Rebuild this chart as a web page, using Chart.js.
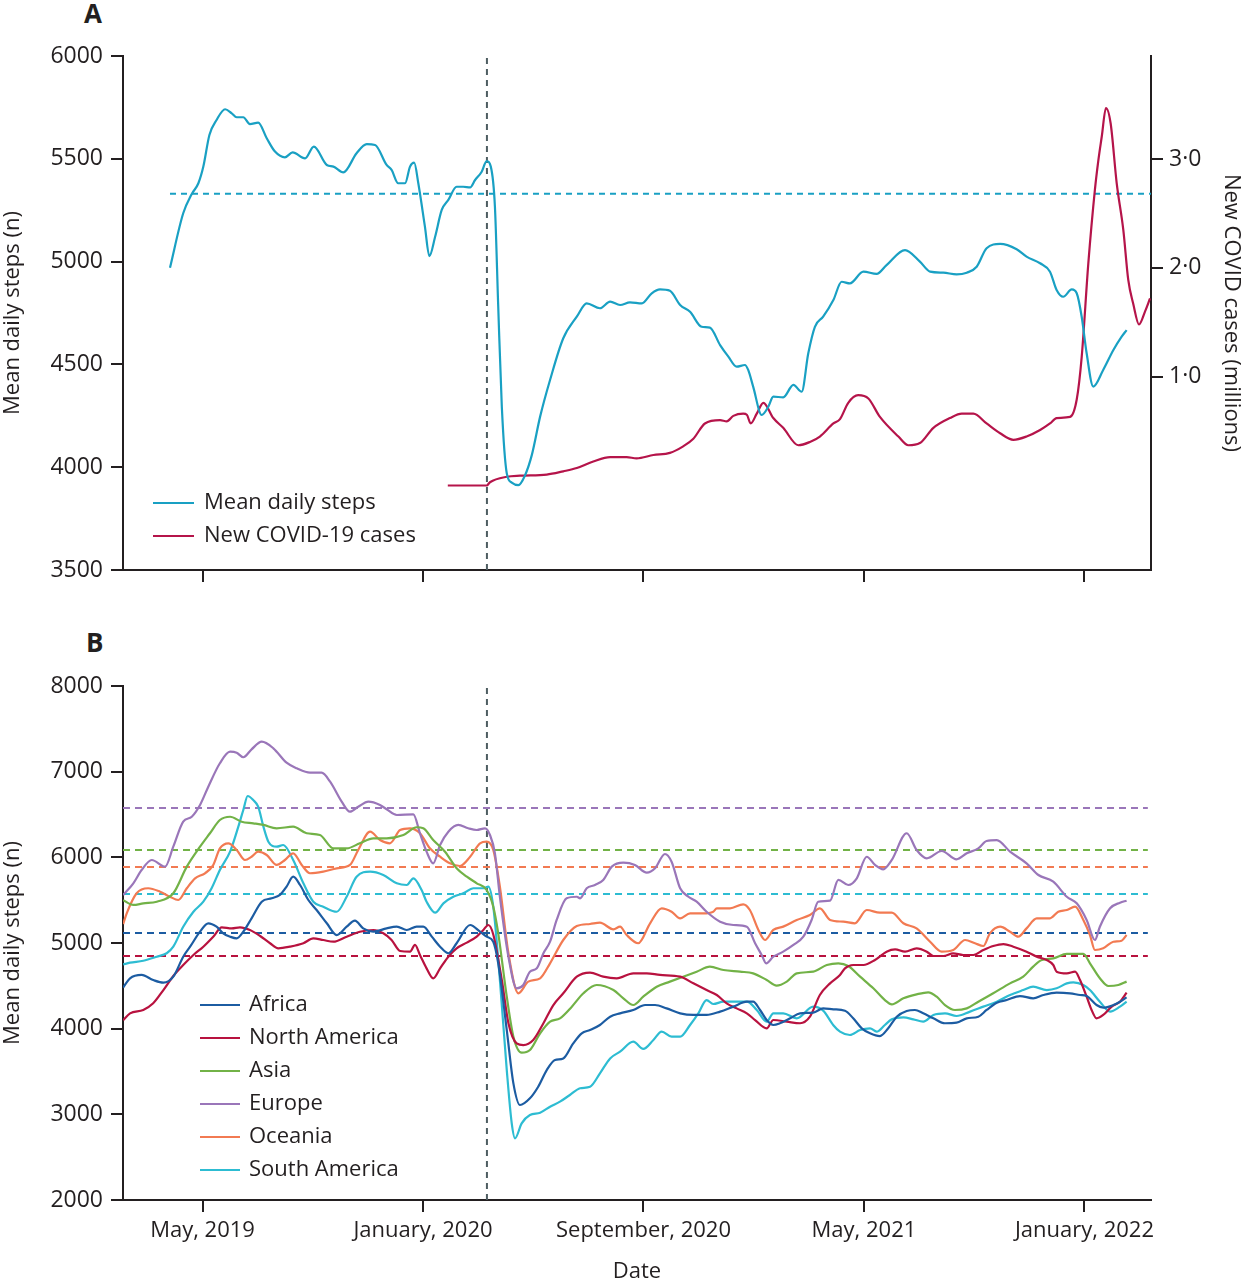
<!DOCTYPE html>
<html lang="en">
<head>
    <meta charset="UTF-8">
    <title>Mean daily steps and new COVID-19 cases</title>
    <script src="https://cdn.jsdelivr.net/npm/chart.js"></script>
    <style>
        body {
            margin: 0;
            background: #fff;
            font-family: "Open Sans", sans-serif;
        }
        #wrap {
            position: relative;
            width: 1244px;
            height: 1280px;
            overflow: hidden;
        }
        canvas {
            position: absolute;
            left: 0;
        }
        .panel {
            position: absolute;
            font-size: 26px;
            line-height: 1;
            font-weight: bold;
            color: #231f20;
        }
    </style>
</head>
<body>
<div id="wrap">
    <div class="panel" style="left:84px; top:0px;">A</div>
    <canvas id="chartA" width="1244" height="600" style="top:0px;"></canvas>
    <div class="panel" style="left:86px; top:629px;">B</div>
    <canvas id="chartB" width="1244" height="660" style="top:620px;"></canvas>
</div>

<script>
    // x values are months counted from January 2019 (0 = 1 Jan 2019)
    var xMin = 1.115;
    var xMax = 38.415;
    var tickMonths = [4, 12, 20, 28, 36];
    var tickLabels = ['May, 2019', 'January, 2020', 'September, 2020', 'May, 2021', 'January, 2022'];
    var pandemicMonth = 14.32; // WHO declaration, March 2020

    // Panel A
    var stepsAll = [[2.82,4970],[3.30,5235],[3.61,5329],[3.85,5381],[4.03,5462],[4.25,5616],[4.51,5689],[4.82,5741],[5.06,5721],[5.24,5702],[5.48,5702],[5.72,5669],[6.02,5676],[6.33,5600],[6.63,5535],[6.99,5507],[7.27,5531],[7.72,5502],[8.04,5559],[8.51,5470],[8.75,5462],[9.11,5434],[9.59,5527],[9.96,5571],[10.26,5567],[10.68,5470],[10.86,5446],[11.10,5381],[11.35,5381],[11.53,5462],[11.68,5481],[11.83,5381],[12.07,5170],[12.23,5027],[12.44,5121],[12.68,5251],[12.92,5300],[13.22,5364],[13.46,5364],[13.71,5361],[13.89,5397],[14.13,5437],[14.31,5489],[14.46,5462],[14.61,5267],[14.73,4781],[14.86,4294],[15.04,3970],[15.22,3925],[15.46,3913],[15.70,3960],[15.95,4060],[16.25,4246],[16.61,4424],[17.09,4627],[17.58,4732],[17.94,4797],[18.42,4773],[18.79,4805],[19.15,4789],[19.51,4802],[19.94,4797],[20.30,4846],[20.60,4865],[20.96,4858],[21.33,4789],[21.69,4756],[22.11,4683],[22.41,4679],[22.78,4594],[23.08,4538],[23.38,4489],[23.68,4497],[23.80,4473],[23.98,4392],[24.29,4254],[24.53,4294],[24.71,4343],[25.07,4340],[25.44,4400],[25.74,4367],[25.98,4554],[26.22,4683],[26.52,4732],[26.89,4813],[27.19,4902],[27.49,4894],[27.98,4951],[28.46,4940],[28.82,4983],[29.49,5056],[30.03,5000],[30.40,4951],[30.88,4946],[31.36,4938],[31.73,4946],[32.09,4975],[32.45,5065],[32.94,5086],[33.54,5060],[33.90,5024],[34.39,4992],[34.75,4951],[34.99,4862],[35.23,4829],[35.54,4865],[35.72,4846],[35.90,4732],[36.08,4554],[36.32,4392],[36.68,4473],[37.05,4570],[37.35,4635],[37.53,4667]];
    var stepsBaseline = 5330;

    // new COVID-19 cases, millions
    var newCases = [[12.90,0.00],[14.31,0.00],[14.43,0.03],[15.04,0.08],[15.52,0.09],[16.49,0.10],[17.09,0.13],[17.58,0.16],[18.18,0.22],[18.79,0.26],[19.39,0.26],[19.75,0.25],[20.36,0.28],[20.96,0.30],[21.44,0.36],[21.81,0.43],[22.23,0.57],[22.78,0.60],[23.02,0.59],[23.26,0.64],[23.62,0.66],[23.75,0.65],[23.89,0.57],[24.11,0.66],[24.35,0.76],[24.71,0.62],[25.07,0.53],[25.62,0.37],[26.04,0.40],[26.40,0.45],[26.89,0.57],[27.13,0.61],[27.43,0.76],[27.79,0.83],[28.16,0.80],[28.58,0.63],[29.25,0.45],[29.61,0.37],[30.03,0.39],[30.52,0.53],[31.12,0.62],[31.55,0.66],[31.97,0.66],[32.45,0.57],[32.94,0.48],[33.42,0.42],[33.90,0.45],[34.39,0.51],[34.75,0.57],[34.99,0.62],[35.48,0.63],[35.72,0.79],[35.90,1.18],[36.14,2.04],[36.38,2.72],[36.50,2.98],[36.63,3.21],[36.78,3.47],[36.95,3.33],[37.17,2.78],[37.41,2.35],[37.59,1.89],[37.77,1.67],[37.98,1.48],[38.20,1.60],[38.38,1.72]];
    var casesTicks = [1, 2, 3];

    // Panel B, by region
    var africa = [[1.12,4480],[1.37,4588],[1.79,4627],[2.21,4568],[2.58,4537],[2.94,4607],[3.30,4840],[3.55,4957],[3.91,5132],[4.21,5230],[4.51,5190],[4.75,5113],[5.00,5074],[5.24,5054],[5.48,5132],[5.78,5288],[6.15,5482],[6.51,5522],[6.81,5561],[7.05,5658],[7.29,5774],[7.54,5677],[7.84,5502],[8.14,5385],[8.51,5230],[8.87,5093],[9.23,5190],[9.53,5261],[9.83,5171],[10.20,5132],[10.68,5171],[11.05,5190],[11.41,5152],[11.77,5190],[12.01,5190],[12.32,5074],[12.62,4957],[12.92,4880],[13.22,4997],[13.71,5210],[14.07,5132],[14.31,5074],[14.55,5015],[14.73,4763],[15.04,3984],[15.28,3362],[15.52,3109],[15.88,3187],[16.18,3322],[16.49,3517],[16.79,3634],[17.09,3653],[17.45,3828],[17.76,3946],[18.06,3984],[18.42,4043],[18.79,4140],[19.15,4179],[19.63,4218],[20.06,4276],[20.42,4276],[20.84,4237],[21.33,4179],[21.81,4160],[22.29,4160],[22.78,4199],[23.26,4257],[23.75,4315],[23.98,4315],[24.23,4218],[24.47,4101],[24.71,4043],[24.95,4063],[25.32,4121],[25.68,4179],[26.16,4187],[26.52,4237],[26.89,4226],[27.31,4210],[27.61,4121],[27.92,4004],[28.22,3946],[28.58,3914],[28.88,4004],[29.19,4140],[29.55,4206],[29.85,4218],[30.15,4179],[30.52,4121],[30.94,4063],[31.36,4070],[31.73,4121],[32.15,4140],[32.45,4218],[32.82,4303],[33.18,4334],[33.66,4381],[34.14,4354],[34.51,4393],[34.99,4420],[35.48,4412],[35.84,4393],[36.08,4381],[36.44,4276],[36.68,4245],[37.05,4276],[37.29,4315],[37.53,4366]];
    var northAmerica = [[1.12,4100],[1.37,4179],[1.85,4218],[2.21,4296],[2.58,4451],[2.94,4615],[3.30,4743],[3.67,4860],[4.03,4957],[4.39,5074],[4.70,5183],[5.06,5171],[5.36,5183],[5.72,5152],[6.09,5082],[6.45,4997],[6.75,4938],[7.17,4957],[7.66,4997],[8.02,5054],[8.38,5035],[8.75,5015],[9.23,5074],[9.71,5132],[10.20,5152],[10.56,5113],[10.86,5035],[11.17,4907],[11.53,4899],[11.71,4977],[11.89,4860],[12.13,4704],[12.37,4588],[12.62,4704],[12.92,4840],[13.22,4938],[13.59,5004],[13.95,5074],[14.19,5152],[14.37,5210],[14.55,5100],[14.86,4568],[15.10,4063],[15.40,3828],[15.64,3809],[16.00,3868],[16.37,4063],[16.73,4276],[17.09,4413],[17.58,4607],[18.06,4654],[18.54,4607],[19.03,4588],[19.63,4646],[20.12,4646],[20.60,4627],[21.33,4607],[21.81,4529],[22.29,4451],[22.66,4393],[23.02,4296],[23.38,4237],[23.75,4179],[24.05,4101],[24.47,4004],[24.71,4101],[25.20,4082],[25.68,4063],[26.04,4140],[26.40,4393],[26.77,4529],[27.13,4627],[27.31,4704],[27.61,4743],[27.98,4743],[28.40,4802],[28.82,4899],[29.13,4926],[29.49,4899],[29.91,4938],[30.28,4899],[30.52,4848],[30.88,4848],[31.24,4880],[31.60,4860],[31.97,4860],[32.33,4918],[32.69,4965],[33.06,4988],[33.42,4957],[33.90,4899],[34.27,4840],[34.63,4802],[34.87,4743],[34.99,4665],[35.36,4646],[35.66,4665],[35.84,4568],[36.08,4373],[36.26,4218],[36.44,4121],[36.68,4160],[36.99,4257],[37.29,4315],[37.53,4420]];
    var asia = [[1.12,5500],[1.49,5444],[1.85,5463],[2.34,5482],[2.94,5580],[3.43,5891],[3.91,6124],[4.27,6281],[4.63,6436],[5.00,6474],[5.42,6416],[5.84,6397],[6.21,6378],[6.69,6339],[7.29,6358],[7.78,6281],[8.26,6261],[8.75,6105],[9.23,6105],[9.71,6164],[10.20,6222],[10.68,6222],[11.29,6261],[11.77,6351],[12.01,6339],[12.37,6202],[12.80,6066],[13.22,5872],[13.59,5774],[13.95,5697],[14.31,5619],[14.55,5424],[14.73,5113],[15.04,4373],[15.28,3906],[15.58,3720],[15.88,3751],[16.25,3946],[16.61,4082],[16.97,4121],[17.40,4257],[17.82,4413],[18.30,4510],[18.91,4451],[19.27,4354],[19.63,4276],[19.99,4373],[20.48,4490],[20.96,4549],[21.44,4607],[21.93,4665],[22.41,4724],[22.90,4685],[23.50,4665],[23.98,4646],[24.47,4568],[24.83,4502],[25.20,4549],[25.56,4646],[26.16,4665],[26.65,4743],[27.07,4763],[27.43,4732],[27.86,4607],[28.34,4471],[28.76,4334],[29.01,4284],[29.43,4354],[29.91,4400],[30.33,4424],[30.64,4373],[30.94,4276],[31.30,4218],[31.73,4237],[32.15,4315],[32.69,4413],[33.30,4529],[33.78,4607],[34.14,4724],[34.45,4802],[34.87,4821],[35.36,4872],[35.96,4872],[36.20,4763],[36.56,4588],[36.87,4498],[37.23,4510],[37.53,4549]];
    var europe = [[1.12,5560],[1.49,5697],[1.79,5852],[2.16,5969],[2.64,5891],[2.94,6124],[3.30,6416],[3.61,6474],[3.91,6611],[4.21,6825],[4.63,7098],[5.00,7233],[5.24,7221],[5.48,7168],[5.78,7261],[6.15,7350],[6.57,7273],[7.05,7105],[7.42,7039],[7.90,6988],[8.32,6988],[8.63,6883],[9.05,6650],[9.35,6533],[9.65,6591],[10.02,6650],[10.44,6611],[10.68,6561],[11.05,6494],[11.65,6502],[11.89,6281],[12.13,6066],[12.37,5930],[12.62,6144],[12.92,6299],[13.28,6378],[13.64,6339],[13.95,6319],[14.25,6339],[14.43,6261],[14.61,6047],[14.79,5540],[15.10,4840],[15.40,4471],[15.64,4510],[15.88,4665],[16.13,4704],[16.37,4880],[16.61,5015],[16.85,5269],[17.21,5522],[17.58,5540],[17.70,5522],[17.94,5639],[18.24,5677],[18.54,5736],[18.85,5891],[19.27,5938],[19.69,5911],[20.12,5821],[20.42,5872],[20.78,6039],[21.02,5949],[21.33,5639],[21.63,5540],[21.93,5482],[22.29,5365],[22.78,5249],[23.26,5210],[23.75,5190],[24.05,4997],[24.29,4860],[24.45,4763],[24.71,4840],[25.07,4899],[25.44,4977],[25.80,5074],[26.10,5269],[26.34,5482],[26.77,5495],[27.07,5736],[27.43,5677],[27.74,5755],[28.10,6007],[28.40,5911],[28.70,5860],[29.01,5969],[29.55,6281],[29.91,6086],[30.28,5989],[30.82,6074],[31.36,5977],[31.73,6047],[32.15,6105],[32.45,6191],[32.82,6202],[33.30,6066],[33.90,5930],[34.33,5794],[34.87,5716],[35.36,5540],[35.72,5463],[36.08,5269],[36.38,5035],[36.56,5190],[36.93,5405],[37.29,5470],[37.53,5494]];
    var oceania = [[1.12,5220],[1.25,5346],[1.61,5580],[2.03,5639],[2.46,5599],[2.82,5540],[3.12,5502],[3.43,5639],[3.73,5755],[4.09,5814],[4.39,5911],[4.63,6105],[4.94,6164],[5.24,6086],[5.54,5969],[5.78,6007],[6.02,6066],[6.33,6027],[6.69,5911],[6.99,5969],[7.29,6047],[7.60,5911],[7.90,5814],[8.38,5833],[8.87,5872],[9.35,5911],[9.65,6086],[10.08,6299],[10.44,6202],[10.80,6164],[11.17,6319],[11.53,6339],[11.89,6281],[12.25,6105],[12.62,6007],[12.98,5930],[13.34,5899],[13.71,6007],[14.07,6164],[14.31,6183],[14.55,6086],[14.79,5658],[15.10,4880],[15.46,4413],[15.82,4549],[16.25,4588],[16.61,4763],[17.09,5035],[17.58,5198],[18.06,5222],[18.42,5237],[18.91,5160],[19.15,5191],[19.39,5093],[19.81,4997],[20.24,5230],[20.66,5405],[21.02,5365],[21.33,5288],[21.69,5346],[22.17,5346],[22.53,5365],[22.66,5405],[23.14,5405],[23.62,5451],[23.86,5385],[24.17,5152],[24.41,5035],[24.71,5152],[25.07,5191],[25.56,5269],[26.04,5327],[26.40,5405],[26.77,5269],[27.25,5249],[27.67,5230],[28.10,5385],[28.58,5354],[29.01,5354],[29.43,5230],[29.91,5171],[30.40,5015],[30.82,4899],[31.24,4918],[31.67,5035],[32.03,4997],[32.33,4965],[32.57,5113],[32.94,5190],[33.30,5132],[33.60,5074],[33.90,5171],[34.27,5288],[34.75,5288],[35.05,5365],[35.36,5385],[35.66,5424],[35.96,5269],[36.20,5093],[36.38,4918],[36.68,4938],[37.05,5015],[37.35,5027],[37.53,5093]];
    var southAmerica = [[1.12,4750],[1.37,4770],[1.85,4793],[2.34,4840],[2.70,4880],[2.94,4957],[3.30,5190],[3.67,5365],[4.03,5482],[4.33,5639],[4.63,5852],[5.00,6066],[5.30,6358],[5.48,6553],[5.64,6716],[5.84,6669],[6.02,6591],[6.21,6358],[6.39,6183],[6.69,6124],[6.93,6144],[7.29,5969],[7.66,5697],[8.02,5482],[8.38,5424],[8.87,5365],[9.23,5540],[9.59,5774],[10.08,5833],[10.56,5794],[11.05,5697],[11.41,5677],[11.65,5755],[11.95,5619],[12.13,5482],[12.44,5354],[12.74,5463],[13.10,5540],[13.46,5580],[13.83,5639],[14.19,5639],[14.37,5658],[14.55,5424],[14.79,4568],[15.04,3517],[15.22,2895],[15.34,2720],[15.58,2895],[15.88,2992],[16.25,3019],[16.61,3089],[16.97,3148],[17.33,3226],[17.70,3304],[18.06,3322],[18.42,3478],[18.79,3653],[19.15,3731],[19.63,3848],[19.99,3763],[20.36,3868],[20.66,3965],[21.02,3906],[21.33,3906],[21.69,4043],[21.99,4179],[22.29,4334],[22.53,4288],[22.90,4315],[23.38,4315],[23.75,4315],[24.11,4218],[24.47,4082],[24.71,4179],[25.07,4179],[25.56,4121],[26.16,4257],[26.52,4210],[26.89,4040],[27.13,3965],[27.49,3926],[27.86,3984],[28.22,4004],[28.46,3965],[28.76,4043],[29.01,4109],[29.43,4132],[29.79,4109],[30.15,4082],[30.52,4160],[30.94,4179],[31.36,4148],[31.85,4199],[32.33,4257],[32.82,4315],[33.30,4393],[33.78,4451],[34.14,4490],[34.63,4451],[34.99,4471],[35.36,4529],[35.60,4541],[35.96,4510],[36.20,4451],[36.56,4315],[36.93,4199],[37.29,4257],[37.53,4315]];

    var regionNames = ['Africa', 'North America', 'Asia', 'Europe', 'Oceania', 'South America'];
    var regionSeries = [africa, northAmerica, asia, europe, oceania, southAmerica];
    var regionBaselines = [5117, 4848, 6086, 6576, 5887, 5572];
    var regionColors = ['#1c5ca2', '#b8123f', '#72b247', '#9a76b9', '#f27a52', '#2dbcd2'];

    var ink = '#231f20';
    var fontFamily = '"Open Sans", sans-serif';

    function toPoints(pairs) {
        return pairs.map(function (p) { return { x: p[0], y: p[1] }; });
    }

    // legend drawn inside the plot area
    var insideLegend = {
        id: 'insideLegend',
        afterDraw: function (chart, args, opts) {
            var ctx = chart.ctx;
            ctx.save();
            ctx.font = '22px ' + fontFamily;
            ctx.textBaseline = 'middle';
            ctx.fillStyle = ink;
            var items = chart.data.datasets.filter(function (d) { return d.inLegend; });
            items.forEach(function (d, i) {
                var y = opts.y + i * opts.rowGap;
                ctx.strokeStyle = d.borderColor;
                ctx.lineWidth = 2;
                ctx.beginPath();
                ctx.moveTo(opts.x, y);
                ctx.lineTo(opts.x + opts.lineLen, y);
                ctx.stroke();
                ctx.fillText(d.label, opts.x + opts.lineLen + opts.gap, y);
            });
            ctx.restore();
        }
    };

    function axisLook() {
        return {
            grid: { drawOnChartArea: false, drawTicks: true, tickLength: 12, color: ink, lineWidth: 2 },
            border: { display: true, color: ink, width: 2 }
        };
    }

    function xScale(withLabels) {
        var s = axisLook();
        s.type = 'linear';
        s.min = xMin;
        s.max = xMax;
        s.afterBuildTicks = function (scale) {
            scale.ticks = tickMonths.map(function (v) { return { value: v }; });
        };
        s.afterFit = function (scale) { scale.height = withLabels ? 80 : 30; };
        s.ticks = {
            display: withLabels, autoSkip: false, maxRotation: 0, padding: 6, color: ink,
            font: { family: fontFamily, size: 22 },
            callback: function (v) { return tickLabels[tickMonths.indexOf(v)]; }
        };
        s.title = {
            display: withLabels, text: 'Date', color: ink, padding: 0,
            font: { family: fontFamily, size: 22, lineHeight: 0.75 }
        };
        return s;
    }

    function stepsScale(min, max, step) {
        var s = axisLook();
        s.position = 'left';
        s.min = min;
        s.max = max;
        s.afterFit = function (scale) { scale.width = 123; };
        s.ticks = {
            stepSize: step, padding: 8, color: ink, font: { family: fontFamily, size: 23 },
            callback: function (v) { return String(v); }
        };
        s.title = {
            display: true, text: 'Mean daily steps (n)', color: ink, padding: 0,
            font: { family: fontFamily, size: 22, lineHeight: 1.2 }
        };
        return s;
    }

    function lineSet(label, pairs, color, axis) {
        return {
            label: label, data: toPoints(pairs), yAxisID: axis || 'y',
            borderColor: color, borderWidth: 2.2, pointRadius: 0,
            cubicInterpolationMode: 'monotone', inLegend: true
        };
    }

    function dashSet(pairs, color, dash, width) {
        return {
            data: toPoints(pairs), yAxisID: 'y', borderColor: color,
            borderWidth: width || 2, borderDash: dash, pointRadius: 0, tension: 0
        };
    }

    // ---- Panel A ----
    var casesScale = axisLook();
    casesScale.position = 'right';
    casesScale.min = -0.777;
    casesScale.max = 3.948;
    casesScale.afterBuildTicks = function (scale) {
        scale.ticks = casesTicks.map(function (v) { return { value: v }; });
    };
    casesScale.afterFit = function (scale) { scale.width = 1244 - 1151; };
    casesScale.ticks = {
        padding: 6, color: ink, font: { family: fontFamily, size: 23 },
        callback: function (v) { return v.toFixed(1).replace('.', '\u00b7'); }
    };
    casesScale.title = {
        display: true, text: 'New COVID cases (millions)', color: ink, padding: 0,
        font: { family: fontFamily, size: 22, lineHeight: 1.2 }
    };

    new Chart(document.getElementById('chartA'), {
        type: 'line',
        data: {
            datasets: [
                lineSet('Mean daily steps', stepsAll, '#19a0c3'),
                lineSet('New COVID-19 cases', newCases, '#b5144a', 'y1'),
                dashSet([[stepsAll[0][0], stepsBaseline], [xMax, stepsBaseline]], '#19a0c3', [6, 5]),
                dashSet([[pandemicMonth, 3500], [pandemicMonth, 6000]], '#4e5d62', [6, 5])
            ]
        },
        options: {
            responsive: false,
            animation: false,
            layout: { padding: { top: 56, left: 0, right: 0, bottom: 0 } },
            plugins: {
                legend: { display: false },
                tooltip: { enabled: false },
                insideLegend: { x: 153, y: 503, rowGap: 33, lineLen: 41, gap: 10 }
            },
            scales: {
                x: xScale(false),
                y: stepsScale(3500, 6000, 500),
                y1: casesScale
            }
        },
        plugins: [insideLegend]
    });

    // ---- Panel B ----
    var setsB = regionNames.map(function (name, i) {
        return lineSet(name, regionSeries[i], regionColors[i]);
    });
    regionBaselines.forEach(function (b, i) {
        setsB.push(dashSet([[xMin, b], [38.3, b]], regionColors[i], [7, 5]));
    });
    setsB.push(dashSet([[pandemicMonth, 2000], [pandemicMonth, 8000]], '#4e5d62', [6, 5]));

    new Chart(document.getElementById('chartB'), {
        type: 'line',
        data: { datasets: setsB },
        options: {
            responsive: false,
            animation: false,
            layout: { padding: { top: 66, left: 0, right: 1244 - 1151, bottom: 0 } },
            plugins: {
                legend: { display: false },
                tooltip: { enabled: false },
                insideLegend: { x: 200, y: 385, rowGap: 33, lineLen: 40, gap: 9 }
            },
            scales: {
                x: xScale(true),
                y: stepsScale(2000, 8000, 1000)
            }
        },
        plugins: [insideLegend]
    });
</script>
</body>
</html>
